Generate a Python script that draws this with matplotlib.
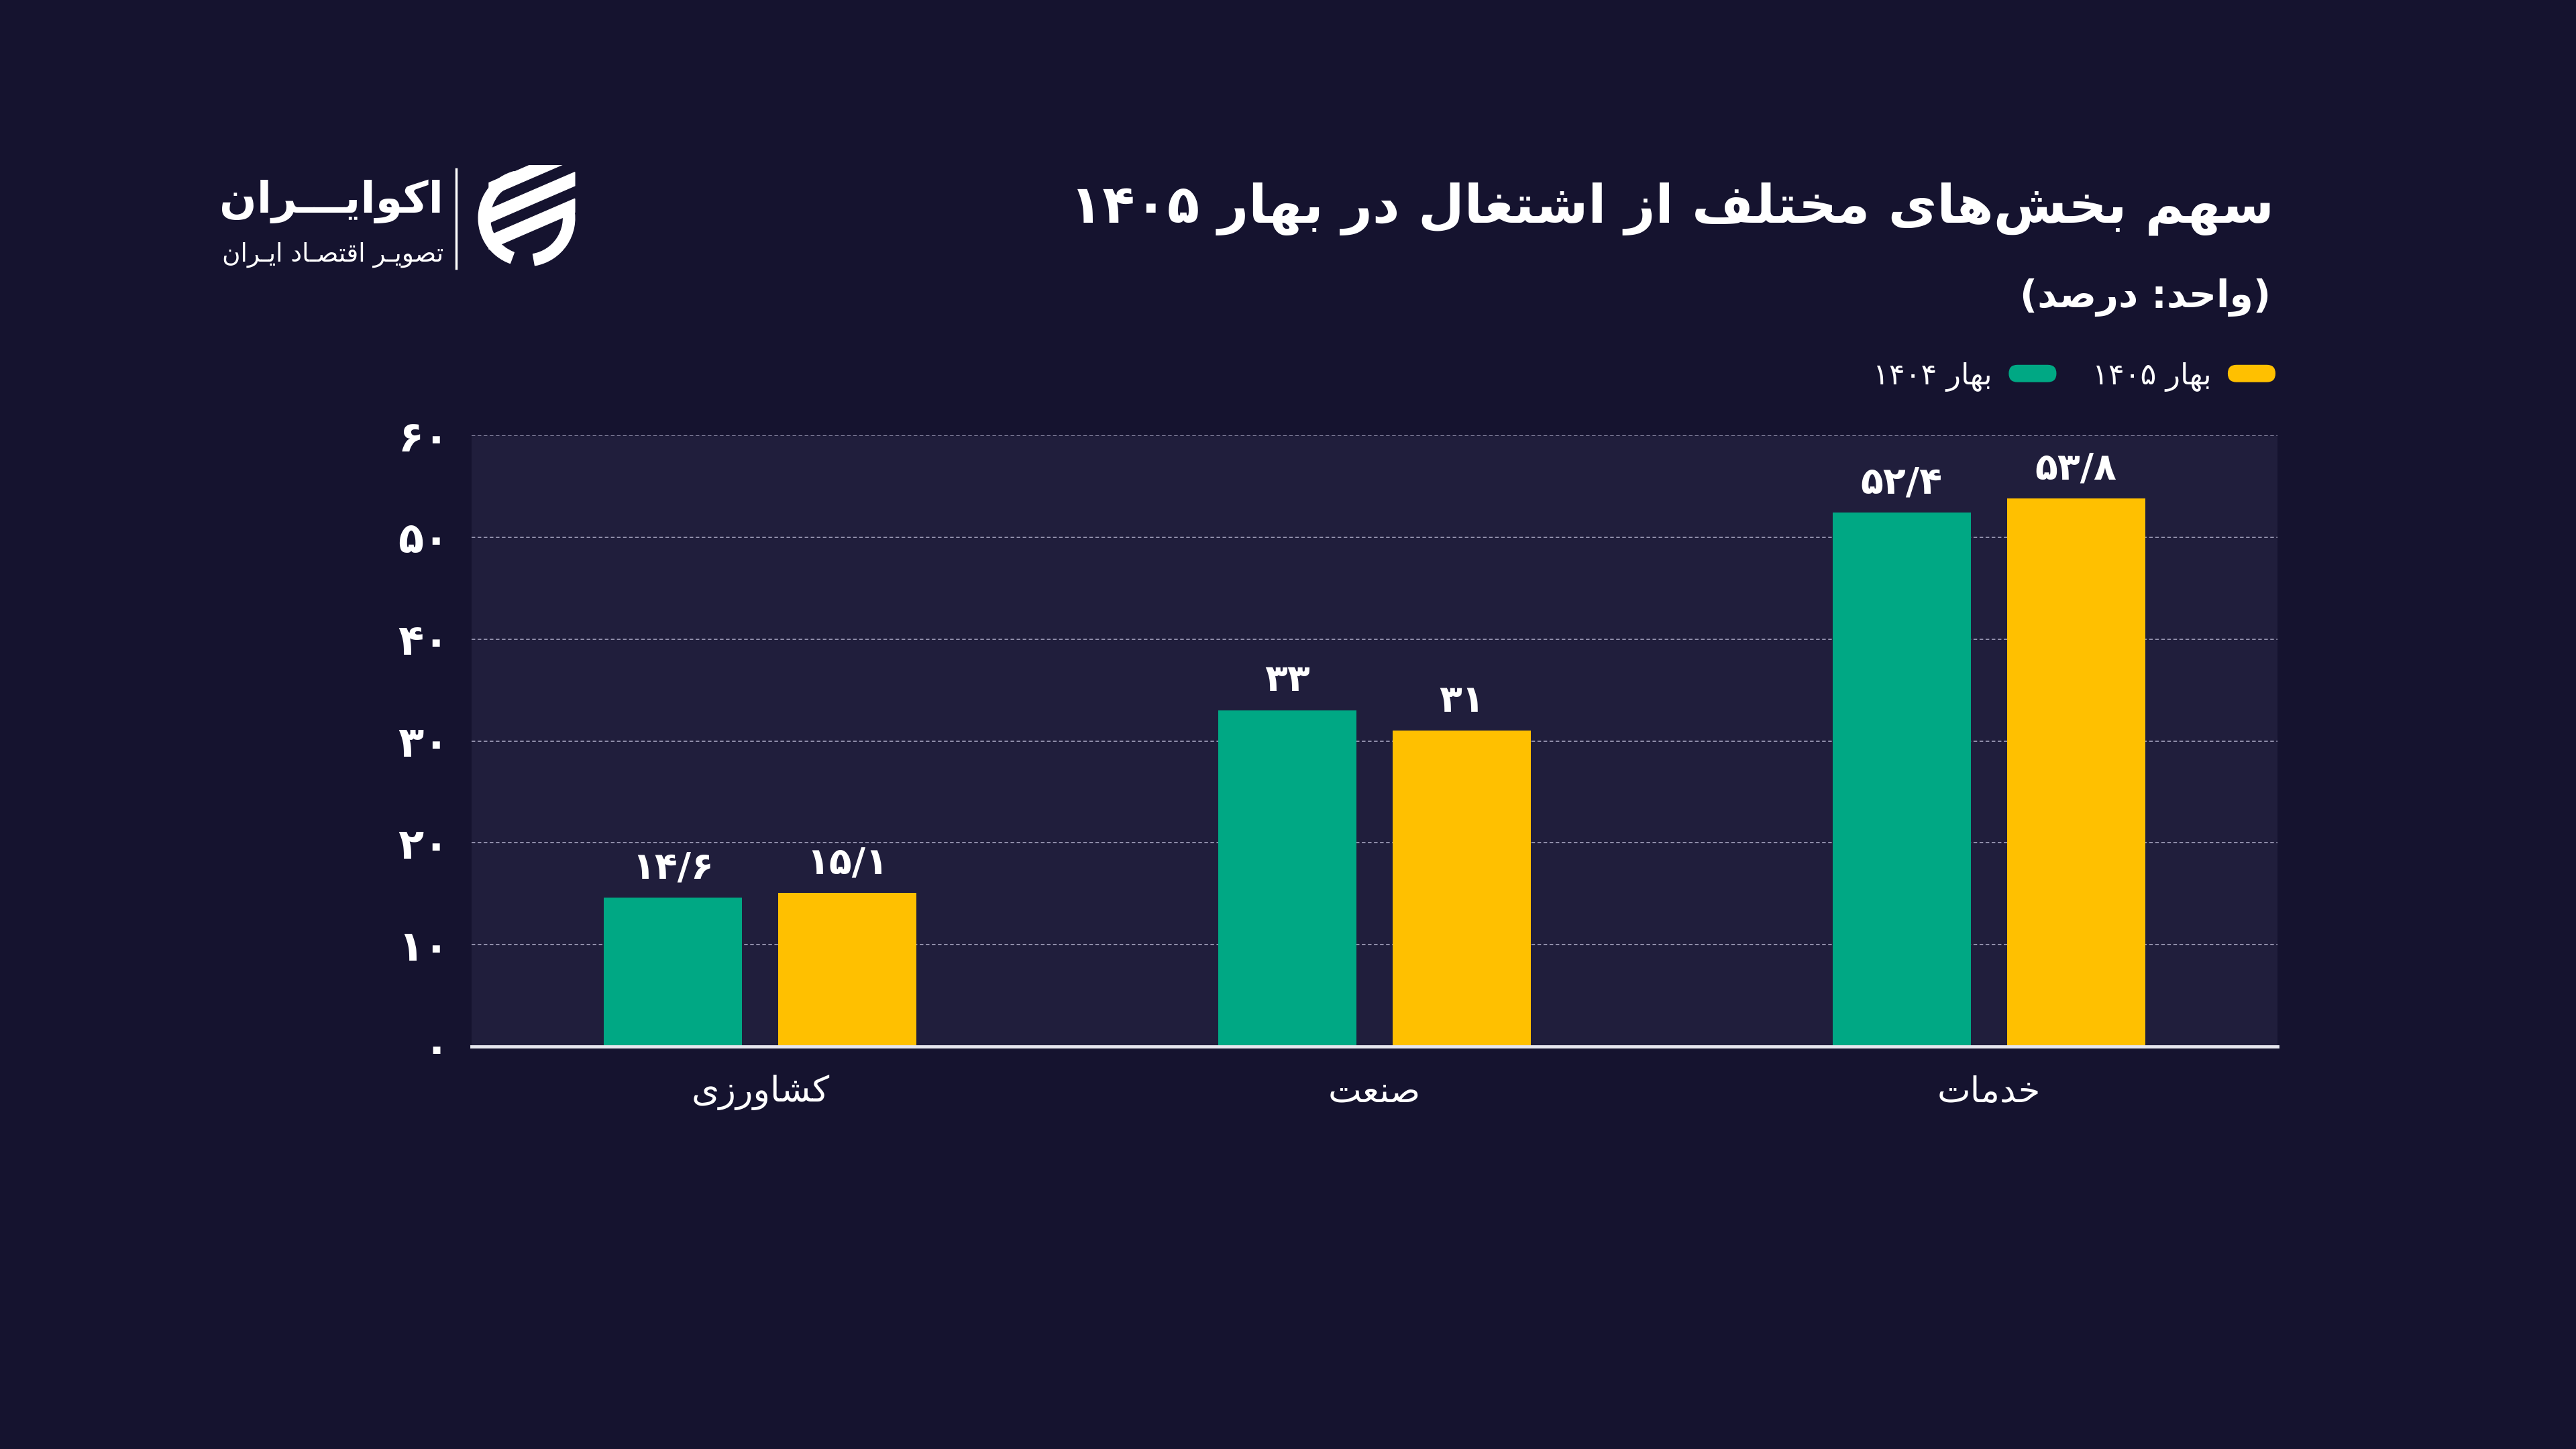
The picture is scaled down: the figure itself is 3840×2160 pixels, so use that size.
import re
import matplotlib
matplotlib.use("Agg")
import matplotlib.pyplot as plt
from matplotlib.patches import Wedge, Polygon, FancyBboxPatch
from matplotlib.container import BarContainer
from matplotlib.legend_handler import HandlerPatch
from matplotlib.ticker import FuncFormatter
import numpy as np

plt.rcParams["font.family"] = ["DejaVu Sans"]

# ------------------------------------------------
# Data
# ------------------------------------------------
categories = ["کشاورزی", "صنعت", "خدمات"]
spring_1404 = [14.6, 33, 52.4]
spring_1405 = [15.1, 31, 53.8]
series_labels = ["بهار ۱۴۰۴", "بهار ۱۴۰۵"]
y_ticks = [0, 10, 20, 30, 40, 50, 60]

title = "سهم بخش‌های مختلف از اشتغال در بهار ۱۴۰۵"
subtitle = "(واحد: درصد)"
brand = "اکوایـــران"
brand_sub = "تصویـر اقتصـاد ایـران"

BG = "#15132f"
PANEL = "#201e3c"
GREEN = "#00a884"
YELLOW = "#ffc000"

# ------------------------------------------------
# Arabic shaping (matplotlib has no RTL / joining support)
# ------------------------------------------------
FORMS = {
    "\u0627": ("\ufe8d", "\ufe8e", None, None),
    "\u0628": ("\ufe8f", "\ufe90", "\ufe91", "\ufe92"),
    "\u062a": ("\ufe95", "\ufe96", "\ufe97", "\ufe98"),
    "\u062d": ("\ufea1", "\ufea2", "\ufea3", "\ufea4"),
    "\u062e": ("\ufea5", "\ufea6", "\ufea7", "\ufea8"),
    "\u062f": ("\ufea9", "\ufeaa", None, None),
    "\u0631": ("\ufead", "\ufeae", None, None),
    "\u0632": ("\ufeaf", "\ufeb0", None, None),
    "\u0633": ("\ufeb1", "\ufeb2", "\ufeb3", "\ufeb4"),
    "\u0634": ("\ufeb5", "\ufeb6", "\ufeb7", "\ufeb8"),
    "\u0635": ("\ufeb9", "\ufeba", "\ufebb", "\ufebc"),
    "\u0639": ("\ufec9", "\ufeca", "\ufecb", "\ufecc"),
    "\u063a": ("\ufecd", "\ufece", "\ufecf", "\ufed0"),
    "\u0641": ("\ufed1", "\ufed2", "\ufed3", "\ufed4"),
    "\u0642": ("\ufed5", "\ufed6", "\ufed7", "\ufed8"),
    "\u0644": ("\ufedd", "\ufede", "\ufedf", "\ufee0"),
    "\u0645": ("\ufee1", "\ufee2", "\ufee3", "\ufee4"),
    "\u0646": ("\ufee5", "\ufee6", "\ufee7", "\ufee8"),
    "\u0647": ("\ufee9", "\ufeea", "\ufeeb", "\ufeec"),
    "\u0648": ("\ufeed", "\ufeee", None, None),
    "\u06a9": ("\ufb8e", "\ufb8f", "\ufb90", "\ufb91"),
    "\u06cc": ("\ufbfc", "\ufbfd", "\ufbfe", "\ufbff"),
    "\u0640": ("\u0640", "\u0640", "\u0640", "\u0640"),
}


def shape(text):
    out = []
    for i, c in enumerate(text):
        if c not in FORMS:
            out.append(c)
            continue
        prev = text[i - 1] if i > 0 else ""
        nxt = text[i + 1] if i + 1 < len(text) else ""
        p = prev in FORMS and FORMS[prev][2] is not None
        n = nxt in FORMS and FORMS[c][2] is not None
        iso, fin, ini, med = FORMS[c]
        if p and n:
            out.append(med)
        elif p:
            out.append(fin)
        elif n:
            out.append(ini)
        else:
            out.append(iso)
    return "".join(out).replace("\u200c", "")


def rtl(text):
    shaped = shape(text)
    runs = re.findall(r"[\u06f0-\u06f90-9/]+|[^\u06f0-\u06f90-9/]+", shaped)
    vis = []
    for r in reversed(runs):
        if re.match(r"[\u06f0-\u06f90-9/]", r):
            vis.append(r)
        else:
            vis.append(r[::-1].translate(str.maketrans("()", ")(")))
    return "".join(vis)


def fa_num(v):
    s = f"{v:g}".replace(".", "/")
    return s.translate(str.maketrans("0123456789", "۰۱۲۳۴۵۶۷۸۹"))


class RoundHandler(HandlerPatch):
    def create_artists(self, legend, orig_handle, xdescent, ydescent,
                       width, height, fontsize, trans):
        p = FancyBboxPatch((-xdescent, -ydescent), width, height,
                           boxstyle=f"round,pad=0,rounding_size={height / 2}",
                           facecolor=orig_handle[0].get_facecolor(),
                           edgecolor="none", transform=trans)
        return [p]


# ------------------------------------------------
# Figure
# ------------------------------------------------
fig = plt.figure(figsize=(38.4, 21.6), dpi=100, facecolor=BG)
ax = fig.add_axes([0.1831, 0.2778, 0.7010, 0.4217])
ax.set_facecolor(PANEL)

x = np.arange(len(categories))
w = 0.225
off = 0.142
b1 = ax.bar(x - off, spring_1404, w, color=GREEN, label=rtl(series_labels[0]), zorder=3)
b2 = ax.bar(x + off, spring_1405, w, color=YELLOW, label=rtl(series_labels[1]), zorder=3)

for bars, vals in [(b1, spring_1404), (b2, spring_1405)]:
    ax.bar_label(bars, labels=[fa_num(v) for v in vals], padding=12,
                 color="white", fontsize=40, fontweight="bold")

ax.set_xlim(-0.47, 2.47)
ax.set_ylim(0, 60)
ax.set_yticks(y_ticks)
ax.yaxis.set_major_formatter(FuncFormatter(lambda v, _: fa_num(int(v))))
ax.set_xticks(x, [rtl(c) for c in categories])
ax.tick_params(axis="both", length=0, colors="white")
ax.tick_params(axis="y", labelsize=45, pad=24)
for t in ax.get_yticklabels():
    t.set_fontweight("bold")
ax.tick_params(axis="x", labelsize=38, pad=30)

ax.yaxis.grid(True, linestyle=(0, (3, 2)), color="#9a98b4", linewidth=1.3, zorder=1)
for s in ["left", "right", "top"]:
    ax.spines[s].set_visible(False)
ax.spines["bottom"].set_color("#e6e6ee")
ax.spines["bottom"].set_linewidth(3.5)
ax.spines["bottom"].set_zorder(4)

# Title block (right aligned)
fig.text(3390 / 3840, 1 - 311 / 2160, rtl(title), ha="right", va="center",
         color="white", fontsize=57, fontweight="bold")
fig.text(3385 / 3840, 1 - 443 / 2160, rtl(subtitle), ha="right", va="center",
         color="white", fontsize=41, fontweight="bold")

fig.legend(handles=[b1, b2], loc="center right",
           bbox_to_anchor=(3392 / 3840, 1 - 561 / 2160), ncol=2,
           frameon=False, markerfirst=False, fontsize=32, labelcolor="white",
           handlelength=1.6, handleheight=0.52, handletextpad=0.55,
           columnspacing=1.2, borderpad=0, borderaxespad=0,
           handler_map={BarContainer: RoundHandler()})

# Logo
fig.text(661 / 3840, 1 - 300 / 2160, rtl(brand), ha="right", va="center",
         color="white", fontsize=47, fontweight="bold")
fig.text(661 / 3840, 1 - 380 / 2160, rtl(brand_sub), ha="right", va="center",
         color="white", fontsize=27)
fig.add_artist(plt.Line2D([680 / 3840, 680 / 3840], [1 - 252 / 2160, 1 - 400 / 2160],
                          color="white", linewidth=2.5))

lax = fig.add_axes([706 / 3840, 1 - 405 / 2160, 158 / 3840, 160 / 2160])
lax.set_xlim(-1.1, 1.1)
lax.set_ylim(-1.1, 1.1)
lax.set_aspect("equal")
lax.axis("off")
lax.add_patch(Wedge((0, 0), 1.0, 105, 250, width=0.24, color="white"))
lax.add_patch(Wedge((0, 0), 1.0, -80, 12, width=0.24, color="white"))
for dy in [0.55, 0.0, -0.55]:
    lax.add_patch(Polygon([(-0.78, dy - 0.1), (-0.78, dy + 0.18),
                           (1.0, dy + 0.95), (1.0, dy + 0.67)], color="white"))

fig.savefig("out.png", dpi=100, facecolor=BG)
